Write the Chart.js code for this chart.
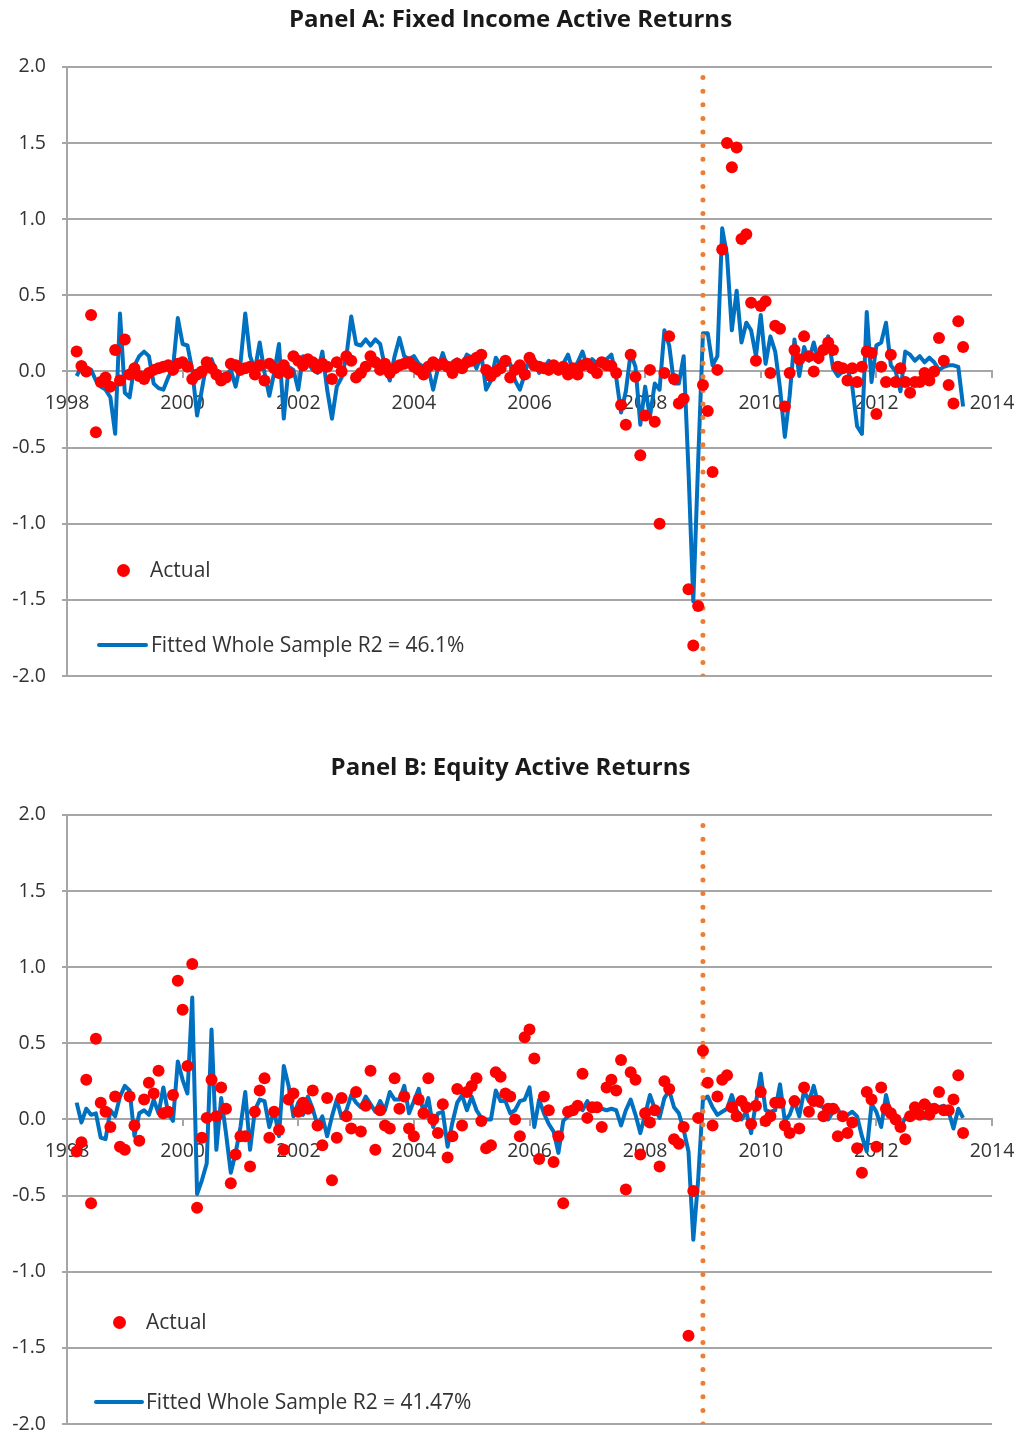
<!DOCTYPE html>
<html>
<head>
<meta charset="utf-8">
<title>Active Returns: Actual vs Fitted</title>
<script src="https://cdn.jsdelivr.net/npm/chart.js@4.4.1/dist/chart.umd.min.js"></script>
<style>
  html, body { margin: 0; padding: 0; background: #fff; }
  body { width: 1021px; height: 1437px; position: relative; overflow: hidden;
         font-family: "Open Sans", sans-serif; color: #333; }
  .panel { position: absolute; left: 0; width: 1021px; height: 689px; }
  .panel canvas { position: absolute; left: 0; top: 0; }
  .lg-text { position: absolute; font-size: 21px; line-height: 26px; white-space: nowrap; }
  .lg-dot  { position: absolute; border-radius: 50%; }
  .lg-line { position: absolute; height: 4px; border-radius: 2px; }
</style>
</head>
<body>
<div class="panel" id="panelA" style="top:0"><canvas id="chartA" width="1021" height="689"></canvas></div>
<div class="panel" id="panelB" style="top:748px"><canvas id="chartB" width="1021" height="689"></canvas></div>
<script>
/* ── Data: monthly active returns, Mar 1998 – Sep 2013 ───────────── */
const firstMonth = 1998 + 2 / 12;   // Mar 1998
const breakYear  = 2009;            // dotted marker
const yMin = -2, yMax = 2, yStep = 0.5;
const xMin = 1998, xMax = 2014, xStep = 2;

const titleA = 'Panel A: Fixed Income Active Returns';
const titleB = 'Panel B: Equity Active Returns';
const actualLabel = 'Actual';
const fittedLabelA = 'Fitted Whole Sample R2 = 46.1%';
const fittedLabelB = 'Fitted Whole Sample R2 = 41.47%';

const fixedIncomeActual = [
  0.13, 0.035, 0.00, 0.37, -0.40, -0.07, -0.04, -0.10, 0.14, -0.06,                // 1998
  0.21, -0.02, 0.02, -0.03, -0.05, -0.01, 0.01, 0.02, 0.03, 0.04, 0.01, 0.05,      // 1999
  0.06, 0.03, -0.05, -0.02, 0.00, 0.06, 0.02, -0.02, -0.06, -0.04, 0.05, 0.04,     // 2000
  0.01, 0.02, 0.03, -0.02, 0.04, -0.06, 0.05, 0.02, -0.01, 0.04, -0.01, 0.10,      // 2001
  0.07, 0.04, 0.08, 0.06, 0.02, 0.05, 0.03, -0.05, 0.06, 0.00, 0.10, 0.07,         // 2002
  -0.04, -0.01, 0.03, 0.10, 0.06, 0.01, 0.05, -0.01, 0.02, 0.04, 0.05, 0.06,       // 2003
  0.03, 0.01, -0.02, 0.03, 0.06, 0.04, 0.05, 0.03, -0.01, 0.05, 0.02, 0.06,        // 2004
  0.07, 0.09, 0.11, 0.01, -0.03, 0.00, 0.02, 0.07, -0.04, 0.01, 0.04, -0.02,       // 2005
  0.09, 0.04, 0.03, 0.02, 0.01, 0.04, 0.01, 0.03, -0.02, 0.02, -0.02, 0.04,        // 2006
  0.05, 0.02, -0.01, 0.06, 0.04, 0.035, -0.01, -0.22, -0.35, 0.11, -0.035, -0.55,  // 2007
  -0.29, 0.01, -0.33, -1.00, -0.01, 0.23, -0.05, -0.21, -0.18, -1.43, -1.80, -1.54, // 2008
  -0.09, -0.26, -0.66, 0.01, 0.80, 1.50, 1.34, 1.47, 0.87, 0.90, 0.45, 0.07,       // 2009
  0.43, 0.46, -0.01, 0.30, 0.28, -0.23, -0.01, 0.14, 0.08, 0.23, 0.10, 0.00,       // 2010
  0.09, 0.14, 0.19, 0.14, 0.03, 0.02, -0.06, 0.02, -0.07, 0.03, 0.13, 0.12,        // 2011
  -0.28, 0.03, -0.07, 0.11, -0.07, 0.02, -0.07, -0.14, -0.07, -0.07, -0.01, -0.06, // 2012
  0.00, 0.22, 0.07, -0.09, -0.21, 0.33, 0.16                                      // 2013
];
const fixedIncomeFitted = [
  -0.03, 0.03, -0.01, 0.01, -0.06, -0.10, -0.12, -0.17, -0.41, 0.38,
  -0.14, -0.17, 0.04, 0.10, 0.13, 0.10, -0.08, -0.11, -0.12, -0.04, 0.02, 0.35,
  0.18, 0.17, 0.01, -0.29, -0.12, 0.06, 0.08, -0.01, -0.08, -0.02, 0.01, -0.10,
  0.05, 0.38, 0.10, 0.01, 0.19, -0.01, -0.16, -0.01, 0.18, -0.31, 0.03, 0.01,
  -0.12, 0.10, 0.06, 0.01, -0.01, 0.13, -0.12, -0.31, -0.10, -0.04, 0.10, 0.36,
  0.18, 0.17, 0.21, 0.17, 0.21, 0.18, 0.03, -0.06, 0.10, 0.22, 0.10, 0.08,
  0.10, 0.05, 0.03, 0.02, -0.12, 0.02, 0.12, 0.02, 0.06, 0.08, 0.04, 0.11,
  0.09, 0.02, 0.11, -0.12, -0.06, 0.09, 0.04, 0.04, 0.05, -0.06, -0.12, -0.02,
  0.10, 0.08, -0.01, 0.02, 0.07, 0.03, 0.04, 0.05, 0.11, 0.00, 0.06, 0.13,
  0.03, 0.08, 0.05, 0.06, 0.08, 0.11, -0.04, -0.27, -0.13, 0.12, 0.03, -0.35,
  -0.10, -0.30, -0.08, -0.12, 0.27, 0.17, -0.08, -0.08, 0.10, -0.65, -1.51, -0.60,
  0.25, 0.25, 0.04, 0.10, 0.94, 0.76, 0.27, 0.53, 0.19, 0.32, 0.27, 0.10,
  0.37, 0.05, 0.23, 0.13, -0.11, -0.43, -0.16, 0.21, -0.03, 0.16, 0.07, 0.19,
  0.06, 0.12, 0.23, 0.02, -0.03, 0.00, 0.02, -0.10, -0.36, -0.41, 0.39, -0.07,
  0.17, 0.19, 0.32, 0.04, 0.00, -0.13, 0.13, 0.11, 0.07, 0.10, 0.06, 0.09,
  0.06, 0.01, 0.03, 0.04, 0.04, 0.03, -0.23
];
const equityActual = [
  -0.21, -0.15, 0.26, -0.55, 0.53, 0.11, 0.05, -0.05, 0.15, -0.18,
  -0.20, 0.15, -0.04, -0.14, 0.13, 0.24, 0.17, 0.32, 0.04, 0.05, 0.16, 0.91,
  0.72, 0.35, 1.02, -0.58, -0.12, 0.01, 0.26, 0.02, 0.21, 0.07, -0.42, -0.23,
  -0.11, -0.11, -0.31, 0.05, 0.19, 0.27, -0.12, 0.05, -0.07, -0.20, 0.13, 0.17,
  0.05, 0.11, 0.07, 0.19, -0.04, -0.17, 0.14, -0.40, -0.12, 0.14, 0.02, -0.06,
  0.18, -0.08, 0.09, 0.32, -0.20, 0.06, -0.04, -0.06, 0.27, 0.07, 0.15, -0.06,
  -0.11, 0.13, 0.04, 0.27, 0.00, -0.09, 0.10, -0.25, -0.11, 0.20, -0.04, 0.18,
  0.22, 0.27, -0.01, -0.19, -0.17, 0.31, 0.28, 0.17, 0.15, 0.00, -0.11, 0.54,
  0.59, 0.40, -0.26, 0.15, 0.06, -0.28, -0.11, -0.55, 0.05, 0.06, 0.09, 0.30,
  0.01, 0.08, 0.08, -0.05, 0.21, 0.26, 0.19, 0.39, -0.46, 0.31, 0.26, -0.23,
  0.04, -0.02, 0.06, -0.31, 0.25, 0.20, -0.13, -0.16, -0.05, -1.42, -0.47, 0.01,
  0.45, 0.24, -0.04, 0.15, 0.26, 0.29, 0.08, 0.02, 0.12, 0.08, -0.03, 0.09,
  0.18, -0.01, 0.02, 0.11, 0.11, -0.04, -0.09, 0.12, -0.06, 0.21, 0.05, 0.12,
  0.12, 0.02, 0.07, 0.07, -0.11, 0.02, -0.09, -0.02, -0.19, -0.35, 0.18, 0.13,
  -0.18, 0.21, 0.07, 0.04, 0.00, -0.05, -0.13, 0.02, 0.08, 0.03, 0.10, 0.03,
  0.07, 0.18, 0.06, 0.06, 0.13, 0.29, -0.09
];
const equityFitted = [
  0.11, -0.02, 0.07, 0.03, 0.04, -0.12, -0.13, 0.06, 0.02, 0.15,
  0.22, 0.19, -0.11, 0.04, 0.06, 0.03, 0.13, 0.04, 0.21, 0.04, -0.01, 0.38,
  0.26, 0.17, 0.80, -0.49, -0.40, -0.29, 0.59, -0.20, 0.14, -0.09, -0.35, -0.22,
  -0.05, 0.18, -0.20, 0.06, 0.13, 0.12, -0.05, 0.06, -0.11, 0.35, 0.22, 0.02,
  0.11, 0.03, 0.15, 0.07, -0.04, 0.02, -0.11, 0.02, 0.13, 0.01, 0.06, 0.16,
  0.11, 0.08, 0.15, 0.10, 0.05, 0.12, 0.06, 0.18, 0.13, 0.13, 0.22, 0.04,
  0.12, 0.20, 0.04, 0.14, -0.05, 0.04, 0.05, -0.18, -0.02, 0.11, 0.16, 0.06,
  0.15, 0.06, 0.01, 0.00, 0.00, 0.19, 0.12, 0.12, 0.04, 0.06, 0.12, 0.13,
  0.21, -0.05, 0.13, 0.04, -0.03, -0.08, -0.22, -0.01, 0.02, 0.04, 0.11, 0.06,
  0.12, 0.06, 0.06, 0.07, 0.06, 0.07, 0.06, -0.04, 0.06, 0.13, 0.03, -0.09,
  0.03, 0.16, 0.07, 0.01, 0.14, 0.19, 0.08, 0.04, -0.07, -0.21, -0.79, -0.40,
  0.13, 0.15, 0.08, 0.03, 0.05, 0.07, 0.16, 0.06, 0.00, 0.05, -0.09, 0.11,
  0.30, 0.06, 0.05, 0.06, 0.23, -0.01, 0.03, 0.12, 0.02, 0.19, 0.12, 0.22,
  0.09, 0.08, 0.00, 0.05, 0.07, 0.00, 0.03, 0.05, 0.02, -0.11, -0.21, 0.10,
  0.05, -0.05, 0.16, 0.03, 0.02, -0.05, 0.01, 0.04, 0.05, 0.03, 0.01, 0.10,
  0.06, 0.08, 0.09, 0.05, -0.06, 0.07, 0.01
];

/* ── Styling ─────────────────────────────────────────────────────── */
const RED    = '#FF0000';
const BLUE   = '#0070C0';
const ORANGE = '#ED7D31';
const GRID   = '#A6A6A6';
const INK    = '#333333';
const FONT_SIZE = 19.5;

Chart.defaults.font.family = '"Open Sans", sans-serif';
Chart.defaults.color = INK;

function monthPoints(values) {
  return values.map((v, i) => ({ x: firstMonth + i / 12, y: v }));
}

function buildPanel(canvasId, title, actual, fitted, fittedLabel) {
  const breakLine = [{ x: breakYear, y: yMin }, { x: breakYear, y: yMax }];
  return new Chart(document.getElementById(canvasId), {
    type: 'scatter',
    data: {
      datasets: [
        { label: actualLabel, data: monthPoints(actual), showLine: false,
          pointRadius: 6, pointBackgroundColor: RED, pointBorderColor: RED, pointBorderWidth: 0,
          order: 0 },
        { label: 'break', data: breakLine, showLine: true,
          borderColor: ORANGE, borderWidth: 5, borderDash: [0, 13.6], borderCapStyle: 'round',
          pointRadius: 0, order: 1 },
        { label: fittedLabel, data: monthPoints(fitted), showLine: true,
          borderColor: BLUE, borderWidth: 4, borderJoinStyle: 'round', tension: 0,
          pointRadius: 0, order: 2 }
      ]
    },
    options: {
      responsive: false,
      animation: false,
      events: [],
      layout: { padding: { top: 5, right: 0, bottom: 13, left: 0 } },
      plugins: {
        legend:  { display: false },
        tooltip: { enabled: false },
        title: {
          display: true, text: title, color: '#1a1a1a',
          font: { size: 24, weight: 'bold', lineHeight: 1.2 },
          padding: { top: 1, bottom: 32 }
        }
      },
      scales: {
        x: {
          type: 'linear', min: xMin, max: xMax,
          position: { y: 0 },
          // axis sits on y = 0: no layout room, only a right margin for the end label
          afterFit: s => { s.height = 0; s.paddingLeft = 0; s.paddingRight = 29; },
          ticks: { stepSize: xStep, padding: 14, maxRotation: 0, color: INK,
                   font: { size: FONT_SIZE }, callback: v => String(v) },
          grid:   { drawOnChartArea: false, tickLength: 6, color: GRID, lineWidth: 2 },
          border: { color: GRID, width: 2 }
        },
        y: {
          min: yMin, max: yMax,
          afterFit: s => { s.width = 67; s.paddingTop = 10; s.paddingBottom = 10; },
          ticks: { stepSize: yStep, padding: 16, color: INK,
                   font: { size: FONT_SIZE }, callback: v => v.toFixed(1) },
          grid:   { color: GRID, lineWidth: 2, tickLength: 5 },
          border: { color: GRID, width: 2 }
        }
      }
    }
  });
}

/* ── In-plot legend ──────────────────────────────────────────────── */
function addLegend(panelId, pos, fittedLabel) {
  const panel = document.getElementById(panelId);
  const el = (cls, css, text) => {
    const d = document.createElement('div');
    d.className = cls;
    Object.assign(d.style, css);
    if (text) d.textContent = text;
    panel.appendChild(d);
  };
  el('lg-dot', { left: (pos.dot[0] - 6.5) + 'px', top: (pos.dot[1] - 6.5) + 'px',
                 width: '13px', height: '13px', background: RED });
  el('lg-text', { left: pos.dotText + 'px', top: (pos.dot[1] - 14) + 'px' }, actualLabel);
  el('lg-line', { left: pos.line[0] + 'px', width: (pos.line[1] - pos.line[0]) + 'px',
                  top: (pos.line[2] - 2) + 'px', background: BLUE });
  el('lg-text', { left: pos.lineText + 'px', top: (pos.line[2] - 14) + 'px' }, fittedLabel);
}

buildPanel('chartA', titleA, fixedIncomeActual, fixedIncomeFitted, fittedLabelA);
buildPanel('chartB', titleB, equityActual, equityFitted, fittedLabelB);

addLegend('panelA', { dot: [123, 570], dotText: 150, line: [97, 148, 645], lineText: 151 }, fittedLabelA);
addLegend('panelB', { dot: [119, 574], dotText: 146, line: [94, 144, 654], lineText: 146 }, fittedLabelB);
</script>
</body>
</html>
